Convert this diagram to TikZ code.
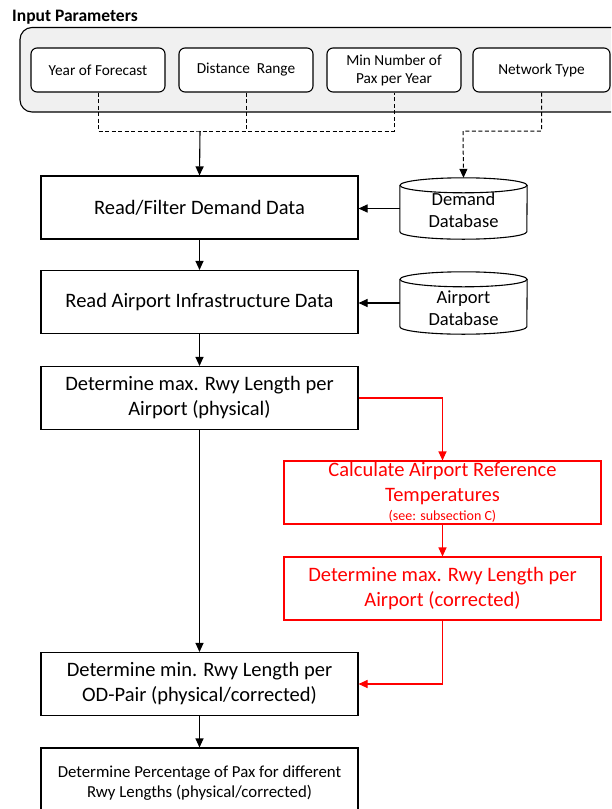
\documentclass[tikz,border=0pt]{standalone}
\usepackage{fontspec}
\setmainfont{Carlito}
\usetikzlibrary{arrows.meta}
\begin{document}
\begin{tikzpicture}[x=1pt,y=-1pt,
  lw/.style={line width=1.1pt},
  box/.style={draw, lw, minimum width=317pt, minimum height=63pt, align=center, inner sep=0pt,
    font=\fontsize{20.5}{25}\selectfont},
  redbox/.style={box, draw=red, text=red},
  inbox/.style={draw, lw, rounded corners=6pt, minimum width=134pt, minimum height=44pt, align=center,
    inner sep=0pt, font=\fontsize{15.3}{18}\selectfont},
  dbase/.style={minimum width=127pt, inner sep=0pt},
  dbtext/.style={align=center, inner sep=0pt, font=\fontsize{18.5}{22}\selectfont},
  arr/.style={lw, -{Triangle[length=9pt,width=8pt]}},
  dsh/.style={line width=1pt, dash pattern=on 4pt off 2.5pt},
]
\useasboundingbox (0,0) rectangle (611,809);
\clip (0,0) rectangle (611,809);

% title
\node[anchor=west, inner sep=0pt, font=\bfseries\fontsize{17.5}{20}\selectfont] (title) at (12,17) {Input Parameters};

% input parameter container
\draw[lw, fill=black!6, rounded corners=12pt] (20,27.5) rectangle (640,112);

\node[inbox, fill=white] (yf) at (98,70) {Year of Forecast};
\node[inbox, fill=white] (dr) at (246,70) {Distance\ \ Range};
\node[inbox, fill=white] (mn) at (394,70) {Min Number of\\Pax per Year};
\node[inbox, fill=white, minimum width=137pt] (nt) at (541.5,70) {Network Type};

% main boxes
\node[box] (rf) at (199.5,207.5) {Read/Filter Demand Data};
\node[box] (ra) at (199.5,302) {Read Airport Infrastructure Data};
\node[box] (dmp) at (199.5,398) {Determine max. Rwy Length per\\Airport (physical)};
\node[redbox] (cat) at (442.5,492.5) {Calculate Airport Reference\\Temperatures\\[-6pt]{\fontsize{14}{14}\selectfont(see: subsection C)}};
\node[redbox] (dmc) at (442.5,588.5) {Determine max. Rwy Length per\\Airport (corrected)};
\node[box] (dmin) at (199.5,684) {Determine min. Rwy Length per\\OD-Pair (physical/corrected)};
\node[box, minimum height=70pt, font=\fontsize{16.8}{20}\selectfont] (dp) at (199.5,783) {Determine Percentage of Pax for different\\Rwy Lengths (physical/corrected)};

% databases
\node[dbase, minimum height=61pt] (ddb) at (463.5,208.5) {};
\node[dbase, minimum height=62pt] (adb) at (463.5,303) {};
\node[dbtext] (ddbt) at ([yshift=-2pt]ddb.center) {Demand\\Database};
\node[dbtext] (adbt) at ([yshift=-5pt]adb.center) {Airport\\Database};
\foreach \n in {ddb,adb}{
  \draw[lw] ([yshift=-7.5pt]\n.north) ellipse [x radius=63.5pt, y radius=7.5pt];
  \draw[lw] ([yshift=-7.5pt]\n.north west) -- ([yshift=7.5pt]\n.south west)
     arc[start angle=180, end angle=360, x radius=63.5pt, y radius=7.5pt]
     -- ([yshift=-7.5pt]\n.north east);
}

% dashed input connectors
\coordinate (j1) at (200,131);
\coordinate (j2) at (463,131);
\draw[dsh] (yf.south) |- (j1) -| (mn.south);
\draw[dsh] (dr.south) -- (dr.south |- j1);
\draw[arr] (j1) -- (rf.north);
\draw[dsh, -{Triangle[length=9pt,width=8pt]}] (nt.south) |- (j2) -- (ddb.north);

% black connectors
\draw[arr] (ddb.west) -- (ddb.west -| rf.east);
\draw[arr] (adb.west) -- (adb.west -| ra.east);
\draw[arr] (rf.south) -- (ra.north);
\draw[arr] (ra.south) -- (dmp.north);
\draw[arr] (dmp.south) -- (dmin.north);
\draw[arr] (dmin.south) -- (dp.north);

% red connectors
\draw[arr, red] (dmp.east) -| (cat.north);
\draw[arr, red] (cat.south) -- (dmc.north);
\draw[arr, red] (dmc.south) |- (dmin.east);
\end{tikzpicture}
\end{document}
